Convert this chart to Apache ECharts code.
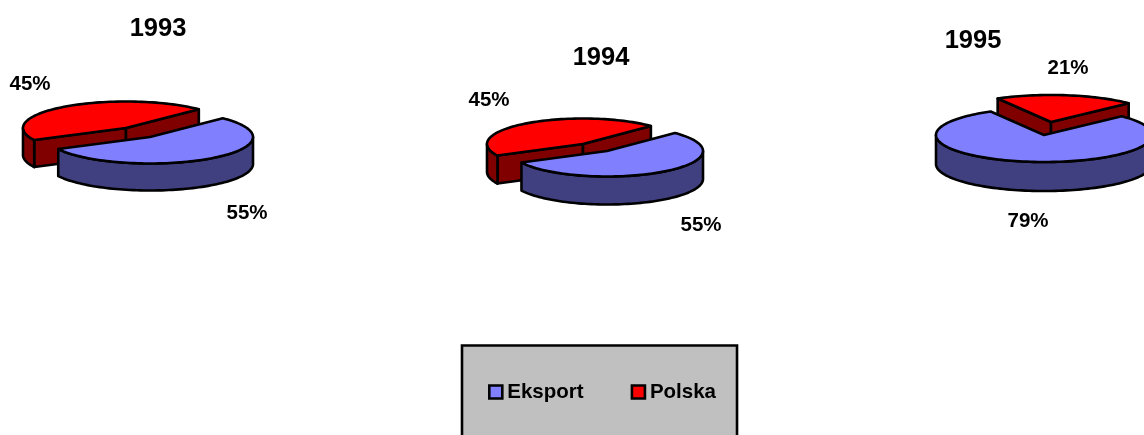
<!DOCTYPE html>
<html><head><meta charset="utf-8">
<style>html,body{margin:0;padding:0;background:#fff}#c{width:1144px;height:435px}</style>
<script src="https://cdn.jsdelivr.net/npm/echarts@6/dist/echarts.min.js"></script></head>
<body><div id="c"></div>
<script>
const years = ['1993', '1994', '1995'];
const seriesNames = ['Eksport', 'Polska'];
const eksport = [55, 55, 79];
const polska = [45, 45, 21];

// layout of each pie (like a pie series' center / radius / startAngle)
const pieLayout = [
  {cx: 150, cy: 137, rx: 103, ry: 26.5, depth: 27, start: -45, ox: -24, oy: -9, redLabel: [30, 84], blueLabel: [247, 213]},
  {cx: 607, cy: 151, rx: 96, ry: 25.5, depth: 28, start: -45, ox: -24, oy: -7, redLabel: [489, 100], blueLabel: [701, 225]},
  {cx: 1044, cy: 135, rx: 108, ry: 27, depth: 29, start: -44, ox: 7, oy: -13, redLabel: [1068, 68], blueLabel: [1028, 221]}
];
const titlePos = [[158, 29], [601, 58], [973, 41]];
const FONT = '"Liberation Sans", Arial, sans-serif';
const colors = {
  Eksport: {top: '#8080FF', side: '#404080'},
  Polska: {top: '#FF0000', side: '#800000'}
};

function pt(cx, cy, rx, ry, deg, dz) {
  const a = deg * Math.PI / 180;
  return [cx + rx * Math.cos(a), cy + ry * Math.sin(a) + (dz || 0)];
}
function arcPts(cx, cy, rx, ry, a, b, dz) {
  const out = [], n = Math.max(2, Math.ceil(Math.abs(b - a) / 2));
  for (let i = 0; i <= n; i++) out.push(pt(cx, cy, rx, ry, a + (b - a) * i / n, dz));
  return out;
}
function poly(points, fill) {
  return {type: 'polygon', shape: {points}, style: {fill, stroke: '#000', lineWidth: 2.6, lineJoin: 'round'}};
}
function sliceShapes(L, cx, cy, s, e, c) {
  const kids = [], d = L.depth, apex = [cx, cy];
  const quad = (deg) => {
    const t = pt(cx, cy, L.rx, L.ry, deg);
    return poly([apex, t, [t[0], t[1] + d], [cx, cy + d]], c.side);
  };
  // radial walls facing the viewer
  if (Math.cos(s * Math.PI / 180) < 0) kids.push(quad(s));
  if (Math.cos(e * Math.PI / 180) > 0) kids.push(quad(e));
  // outer wall on the front half of the rim (angles 0..180, modulo 360)
  for (let k = -1; k <= 1; k++) {
    const lo = Math.max(s, 360 * k), hi = Math.min(e, 360 * k + 180);
    if (hi > lo) {
      const up = arcPts(cx, cy, L.rx, L.ry, lo, hi, 0);
      const dn = arcPts(cx, cy, L.rx, L.ry, hi, lo, d);
      kids.push(poly(up.concat(dn), c.side));
    }
  }
  kids.push(poly([apex].concat(arcPts(cx, cy, L.rx, L.ry, s, e, 0)), c.top));
  return kids;
}
function label(text, pos) {
  return {type: 'text', style: {text, x: pos[0], y: pos[1], fill: '#000', font: 'bold 20.5px ' + FONT, textAlign: 'center', textVerticalAlign: 'middle'}};
}
function renderSlice(name) {
  return function (params, api) {
    const i = api.value(0), v = api.value(1), L = pieLayout[i];
    let s, e, cx = L.cx, cy = L.cy, lab;
    if (name === 'Eksport') {
      s = L.start; e = s + v * 3.6; lab = L.blueLabel;
    } else {
      s = L.start + eksport[i] * 3.6; e = s + v * 3.6;
      cx += L.ox; cy += L.oy; lab = L.redLabel;
    }
    const kids = sliceShapes(L, cx, cy, s, e, colors[name]);
    kids.push(label(v + '%', lab));
    return {type: 'group', children: kids};
  };
}
const chart = echarts.init(document.getElementById('c'), null, {renderer: 'canvas'});
chart.setOption({
  animation: false,
  backgroundColor: '#fff',
  title: years.map((y, i) => ({
    text: y, left: titlePos[i][0], top: titlePos[i][1], textAlign: 'center', textVerticalAlign: 'middle', padding: 0,
    textStyle: {fontFamily: FONT, fontWeight: 'bold', fontSize: 25.5, color: '#000'}
  })),
  legend: {
    data: seriesNames, left: 462, top: 345.5, orient: 'horizontal', selectedMode: false,
    padding: [36, 21, 37, 26], itemGap: 47, itemWidth: 13, itemHeight: 13,
    backgroundColor: '#C0C0C0', borderColor: '#000', borderWidth: 2.6, borderRadius: 0,
    icon: 'rect',
    itemStyle: {borderColor: '#000', borderWidth: 2.6},
    textStyle: {fontFamily: FONT, fontWeight: 'bold', fontSize: 20.5, color: '#000'}
  },
  series: [
    {type: 'custom', name: 'Polska', coordinateSystem: 'none', silent: true, z: 2,
     itemStyle: {color: colors.Polska.top, borderColor: '#000', borderWidth: 2.6},
     renderItem: renderSlice('Polska'), data: polska.map((v, i) => [i, v])},
    {type: 'custom', name: 'Eksport', coordinateSystem: 'none', silent: true, z: 3,
     itemStyle: {color: colors.Eksport.top, borderColor: '#000', borderWidth: 2.6},
     renderItem: renderSlice('Eksport'), data: eksport.map((v, i) => [i, v])}
  ]
});
</script></body></html>
